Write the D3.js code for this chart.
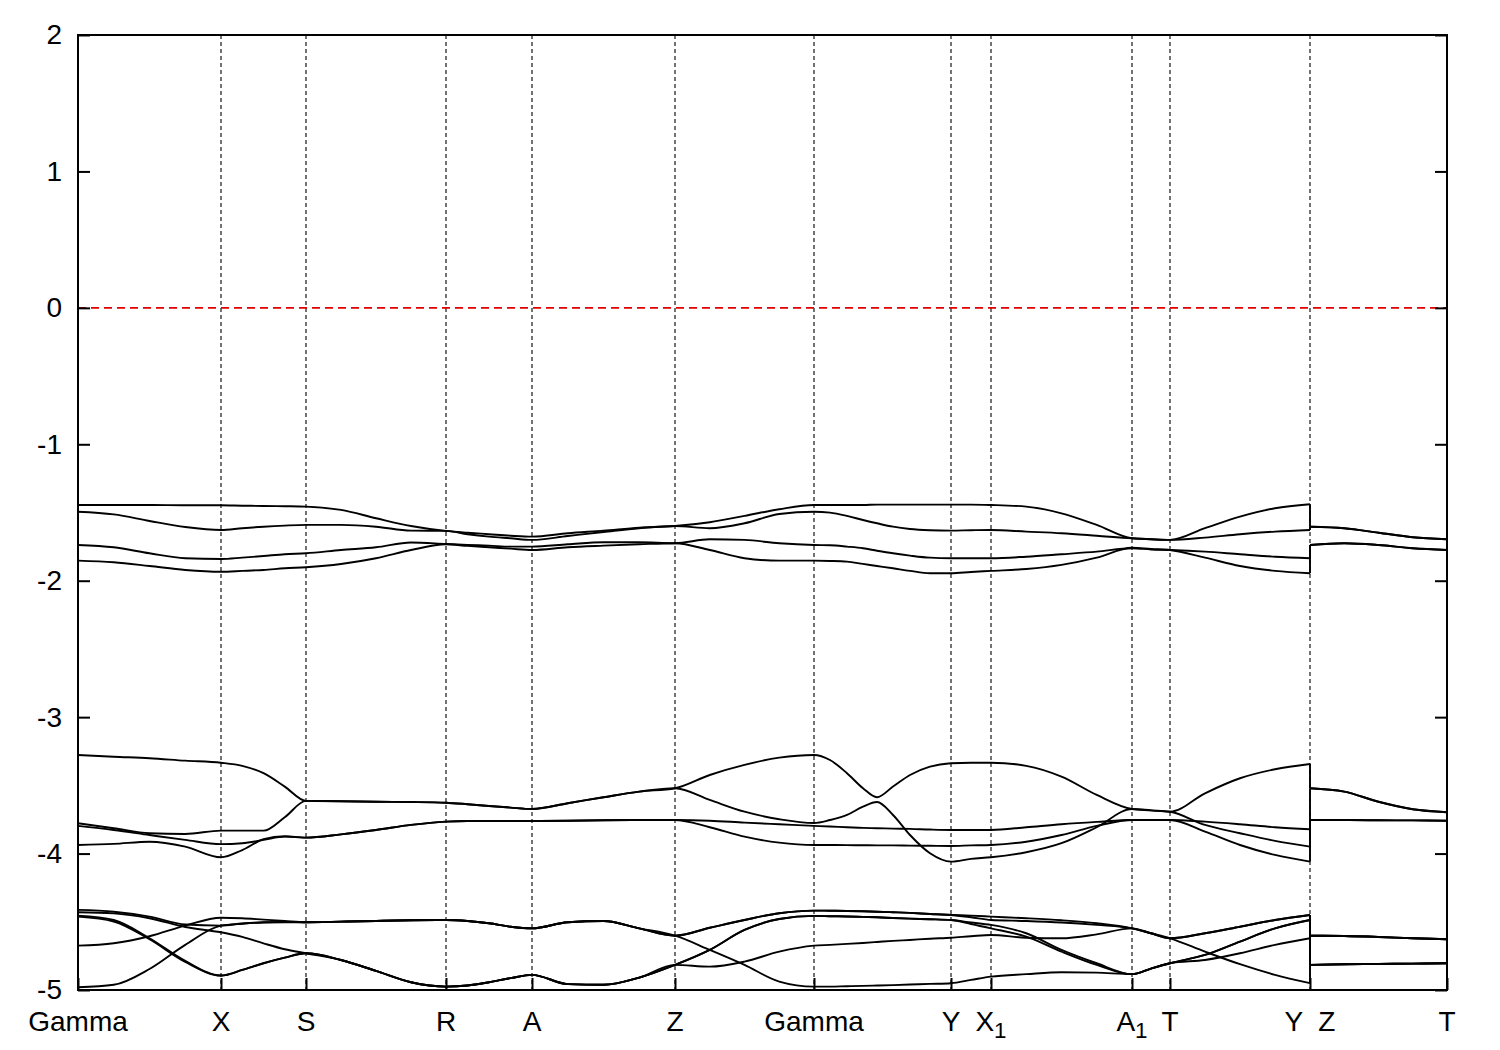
<!DOCTYPE html>
<html><head><meta charset="utf-8">
<script src="https://cdn.jsdelivr.net/npm/d3@7"></script>
<style>body{margin:0;background:#fff} text{font-family:"Liberation Sans",Arial,Helvetica,sans-serif;fill:#000}</style>
</head><body><svg id="c" width="1500" height="1050"></svg>
<script>
// ---------- DATA ----------
const kTicks = [0, 1.43, 2.28, 3.68, 4.54, 5.97, 7.36, 8.73, 9.13, 10.54, 10.92, 12.32, 13.69];
const kLabelMain = ["Gamma","X","S","R","A","Z","Gamma","Y","X","A","T","Y  Z","T"];
const kLabelSub  = ["","","","","","","","","1","1","","",""];
const yTicks = [-5,-4,-3,-2,-1,0,1,2];
const fermiLevel = 0;

// k-path sample points (first 45: Gamma..Y, last 5: Z..T)
const kGrid = [0, 0.3575, 0.715, 1.0725, 1.43,
 1.6425, 1.855, 2.0675, 2.28,
 2.63, 2.98, 3.33, 3.68,
 3.895, 4.11, 4.325, 4.54,
 4.8975, 5.255, 5.6125, 5.97,
 6.3175, 6.665, 7.0125, 7.36,
 7.52, 7.69, 7.85, 7.99, 8.15, 8.32, 8.52, 8.73,
 8.93, 9.13,
 9.4825, 9.835, 10.1875, 10.54,
 10.73, 10.92,
 11.27, 11.62, 11.97, 12.32,
 12.32, 12.6625, 13.005, 13.3475, 13.69];

const bandT1 = [-1.445,-1.445,-1.445,-1.447,-1.447, -1.450,-1.452,-1.454,-1.457, -1.481,-1.542,-1.599,-1.635, -1.648,-1.659,-1.670,-1.677, -1.652,-1.633,-1.611,-1.599, -1.571,-1.525,-1.476,-1.445, -1.445,-1.445,-1.445,-1.442,-1.442,-1.442,-1.442,-1.442, -1.442,-1.445, -1.457,-1.506,-1.591,-1.689, -1.696,-1.701, -1.615,-1.530,-1.469,-1.440, -1.604,-1.615,-1.648,-1.681,-1.696];
const bandT2 = [-1.494,-1.514,-1.562,-1.606,-1.628, -1.615,-1.604,-1.596,-1.591, -1.591,-1.604,-1.633,-1.635, -1.659,-1.677,-1.689,-1.701, -1.672,-1.643,-1.615,-1.599, -1.615,-1.579,-1.511,-1.494, -1.501,-1.525,-1.555,-1.579,-1.604,-1.621,-1.630,-1.633, -1.630,-1.628, -1.640,-1.652,-1.670,-1.689, -1.696,-1.701, -1.684,-1.659,-1.640,-1.628, -1.604,-1.615,-1.648,-1.681,-1.696];
const bandT3 = [-1.738,-1.755,-1.799,-1.835,-1.841, -1.831,-1.819,-1.806,-1.799, -1.775,-1.755,-1.720,-1.731, -1.738,-1.743,-1.750,-1.750, -1.733,-1.718,-1.718,-1.725, -1.696,-1.701,-1.725,-1.738, -1.740,-1.750,-1.762,-1.780,-1.799,-1.816,-1.831,-1.835, -1.835,-1.835, -1.824,-1.806,-1.787,-1.762, -1.771,-1.775, -1.787,-1.806,-1.824,-1.835, -1.738,-1.725,-1.738,-1.762,-1.775];
const bandT4 = [-1.853,-1.865,-1.892,-1.921,-1.934, -1.928,-1.921,-1.909,-1.901, -1.877,-1.835,-1.775,-1.733, -1.745,-1.755,-1.765,-1.775, -1.755,-1.743,-1.733,-1.725, -1.775,-1.835,-1.853,-1.853, -1.855,-1.860,-1.877,-1.892,-1.909,-1.928,-1.945,-1.945, -1.936,-1.928, -1.914,-1.884,-1.831,-1.758, -1.767,-1.775, -1.831,-1.892,-1.928,-1.945, -1.738,-1.725,-1.738,-1.762,-1.775];

const bandM1 = [-3.277,-3.290,-3.301,-3.319,-3.334, -3.357,-3.411,-3.509,-3.614, -3.616,-3.620,-3.622,-3.627, -3.638,-3.651,-3.663,-3.673, -3.631,-3.587,-3.546,-3.521, -3.424,-3.350,-3.297,-3.277, -3.314,-3.411,-3.521,-3.587,-3.509,-3.424,-3.363,-3.338, -3.334,-3.334, -3.357,-3.436,-3.570,-3.673, -3.683,-3.693, -3.558,-3.448,-3.382,-3.343, -3.521,-3.546,-3.620,-3.675,-3.697];
const bandM2 = [-3.778,-3.814,-3.851,-3.856,-3.832, -3.832,-3.832,-3.734,-3.614, -3.616,-3.620,-3.622,-3.627, -3.638,-3.651,-3.663,-3.673, -3.631,-3.587,-3.546,-3.521, -3.607,-3.693,-3.748,-3.776, -3.754,-3.717,-3.656,-3.622,-3.717,-3.864,-3.998,-4.059, -4.039,-4.027, -3.990,-3.924,-3.807,-3.673, -3.683,-3.693, -3.790,-3.851,-3.907,-3.949, -3.521,-3.546,-3.620,-3.675,-3.697];
const bandM3 = [-3.797,-3.827,-3.864,-3.900,-3.931, -3.924,-3.900,-3.876,-3.883, -3.859,-3.827,-3.790,-3.766, -3.761,-3.761,-3.761,-3.761, -3.759,-3.756,-3.754,-3.754, -3.759,-3.773,-3.785,-3.797, -3.802,-3.807,-3.812,-3.814,-3.817,-3.819,-3.824,-3.827, -3.827,-3.827, -3.807,-3.785,-3.768,-3.754, -3.754,-3.754, -3.766,-3.785,-3.807,-3.822, -3.754,-3.754,-3.756,-3.757,-3.759];
const bandM4 = [-3.937,-3.929,-3.913,-3.949,-4.027, -3.974,-3.895,-3.873,-3.883, -3.859,-3.827,-3.790,-3.766, -3.761,-3.761,-3.761,-3.761, -3.759,-3.756,-3.754,-3.754, -3.807,-3.876,-3.920,-3.937, -3.937,-3.938,-3.939,-3.940,-3.940,-3.942,-3.943,-3.944, -3.940,-3.937, -3.913,-3.864,-3.797,-3.754, -3.754,-3.754, -3.839,-3.937,-4.010,-4.059, -3.754,-3.754,-3.756,-3.757,-3.759];

const bandB1 = [-4.413,-4.426,-4.462,-4.520,-4.528, -4.513,-4.505,-4.503,-4.503, -4.499,-4.494,-4.489,-4.487, -4.494,-4.511,-4.536,-4.548, -4.503,-4.494,-4.548,-4.602, -4.544,-4.487,-4.437,-4.418, -4.419,-4.421,-4.423,-4.426,-4.430,-4.435,-4.443,-4.450, -4.455,-4.462, -4.474,-4.489,-4.511,-4.548, -4.584,-4.621, -4.584,-4.536,-4.487,-4.450, -4.602,-4.604,-4.611,-4.621,-4.628];
const bandB2 = [-4.430,-4.438,-4.474,-4.538,-4.577, -4.611,-4.658,-4.701,-4.731, -4.780,-4.860,-4.943,-4.975, -4.967,-4.943,-4.913,-4.889, -4.957,-4.962,-4.909,-4.816, -4.706,-4.560,-4.480,-4.457, -4.459,-4.461,-4.464,-4.467,-4.472,-4.477,-4.481,-4.487, -4.505,-4.523, -4.584,-4.706,-4.804,-4.884, -4.843,-4.804, -4.743,-4.645,-4.548,-4.487, -4.816,-4.811,-4.809,-4.807,-4.804];
const bandB3 = [-4.455,-4.487,-4.621,-4.787,-4.894, -4.853,-4.804,-4.763,-4.731, -4.780,-4.860,-4.943,-4.975, -4.967,-4.943,-4.913,-4.889, -4.957,-4.962,-4.909,-4.816, -4.706,-4.560,-4.480,-4.457, -4.459,-4.461,-4.464,-4.467,-4.472,-4.477,-4.481,-4.487, -4.516,-4.548, -4.609,-4.719,-4.816,-4.884, -4.843,-4.804, -4.743,-4.645,-4.548,-4.487, -4.816,-4.811,-4.809,-4.807,-4.804];
const bandB4 = [-4.462,-4.498,-4.628,-4.794,-4.894, -4.853,-4.804,-4.763,-4.731, -4.780,-4.860,-4.943,-4.975, -4.967,-4.943,-4.913,-4.889, -4.957,-4.962,-4.909,-4.816, -4.829,-4.792,-4.719,-4.675, -4.669,-4.662,-4.655,-4.648,-4.640,-4.633,-4.624,-4.617, -4.606,-4.597, -4.617,-4.621,-4.592,-4.548, -4.584,-4.621, -4.719,-4.811,-4.889,-4.950, -4.602,-4.604,-4.611,-4.621,-4.628];
const bandB5 = [-4.675,-4.657,-4.606,-4.528,-4.470, -4.474,-4.484,-4.494,-4.503, -4.499,-4.494,-4.489,-4.487, -4.494,-4.511,-4.536,-4.548, -4.503,-4.494,-4.548,-4.602, -4.544,-4.487,-4.437,-4.418, -4.419,-4.421,-4.423,-4.426,-4.430,-4.435,-4.443,-4.450, -4.467,-4.487, -4.494,-4.505,-4.523,-4.548, -4.584,-4.621, -4.584,-4.536,-4.487,-4.450, -4.602,-4.604,-4.611,-4.621,-4.628];
const bandB6 = [-4.980,-4.962,-4.846,-4.669,-4.528, -4.514,-4.503,-4.501,-4.503, -4.499,-4.494,-4.489,-4.487, -4.494,-4.511,-4.536,-4.548, -4.503,-4.494,-4.548,-4.602, -4.706,-4.816,-4.938,-4.975, -4.975,-4.972,-4.970,-4.967,-4.964,-4.960,-4.955,-4.950, -4.926,-4.902, -4.884,-4.870,-4.873,-4.884, -4.843,-4.804, -4.780,-4.731,-4.669,-4.621, -4.816,-4.811,-4.809,-4.807,-4.804];

const bands = [bandT1,bandT2,bandT3,bandT4,bandM1,bandM2,bandM3,bandM4,bandB1,bandB2,bandB3,bandB4,bandB5,bandB6];
const breakIndex = 45; // Y|Z discontinuity

// ---------- DRAW ----------
const W=1500, H=1050, L=78, R=1447, T=35, B=990;
const svg = d3.select("#c");
svg.append("rect").attr("width",W).attr("height",H).attr("fill","#fff");
const x = d3.scaleLinear().domain([kTicks[0], kTicks[kTicks.length-1]]).range([L,R]);
const y = d3.scaleLinear().domain([-5,2]).range([B,T]);

// vertical dotted lines at high-symmetry points
svg.append("g").selectAll("line").data(kTicks.slice(1,-1)).join("line")
  .attr("x1",d=>x(d)).attr("x2",d=>x(d)).attr("y1",T).attr("y2",B)
  .attr("stroke","#000").attr("stroke-width",1.1).attr("stroke-dasharray","4,3");

// Fermi level
svg.append("line").attr("x1",L).attr("x2",R).attr("y1",y(fermiLevel)).attr("y2",y(fermiLevel))
  .attr("stroke","#e00000").attr("stroke-width",1.6).attr("stroke-dasharray","8,5");

// bands
const line = d3.line().x(d=>x(d[0])).y(d=>y(d[1])).curve(d3.curveMonotoneX);
const gB = svg.append("g").attr("fill","none").attr("stroke","#000").attr("stroke-width",1.9).attr("stroke-linejoin","round");
bands.forEach(b=>{
  const pts = b.map((v,i)=>[kGrid[i], v]);
  const p1 = pts.slice(0, breakIndex), p2 = pts.slice(breakIndex);
  gB.append("path").attr("d", line(p1));
  gB.append("path").attr("d", line(p2));
  gB.append("path").attr("d", d3.line().x(d=>x(d[0])).y(d=>y(d[1]))([p1[p1.length-1], p2[0]]));
});

// axes
const fs = 28;
const ax = svg.append("g").attr("transform",`translate(${L},0)`)
  .call(d3.axisLeft(y).tickValues(yTicks).tickSizeInner(-12).tickSizeOuter(0).tickPadding(16).tickFormat(d=>String(d)));
ax.select(".domain").remove();
ax.selectAll("line").attr("stroke","#000").attr("stroke-width",2);
ax.selectAll("text").attr("font-size",fs).attr("font-family","Liberation Sans, Arial, sans-serif").attr("fill","#000");
const axr = svg.append("g").attr("transform",`translate(${R},0)`)
  .call(d3.axisRight(y).tickValues(yTicks).tickSizeInner(-12).tickSizeOuter(0).tickFormat(""));
axr.select(".domain").remove();
axr.selectAll("line").attr("stroke","#000").attr("stroke-width",2);
const axb = svg.append("g").attr("transform",`translate(0,${B})`)
  .call(d3.axisBottom(x).tickValues(kTicks).tickSizeInner(-12).tickSizeOuter(0).tickFormat(""));
axb.select(".domain").remove();
axb.selectAll("line").attr("stroke","#000").attr("stroke-width",2);

// k labels
const lab = svg.append("g").selectAll("text").data(kTicks).join("text")
  .attr("x",d=>x(d)).attr("y",1031).attr("text-anchor","middle").attr("font-size",fs)
  .style("white-space","pre");
lab.each(function(d,i){
  const t = d3.select(this);
  t.append("tspan").text(kLabelMain[i]);
  if (kLabelSub[i]) t.append("tspan").attr("font-size",fs*0.8).attr("dy",7).text(kLabelSub[i]);
});

// frame
svg.append("rect").attr("x",L).attr("y",T).attr("width",R-L).attr("height",B-T)
  .attr("fill","none").attr("stroke","#000").attr("stroke-width",2);
</script></body></html>
